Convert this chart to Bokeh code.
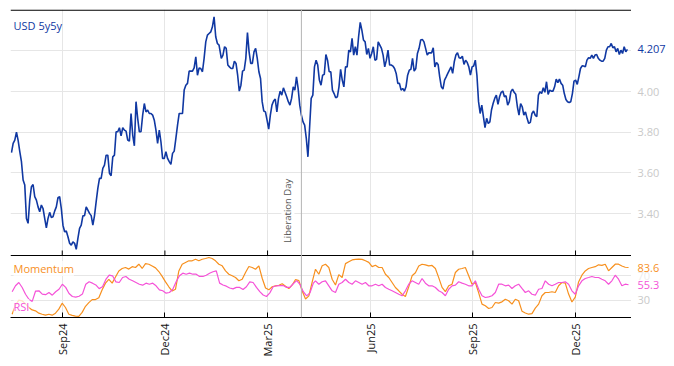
import pandas as pd
from math import pi
from bokeh.plotting import figure
from bokeh.layouts import row
from bokeh.models import (Range1d, FixedTicker, DatetimeTickFormatter,
                          Grid, Span, Label, ColumnDataSource)
from bokeh.core.properties import value
from bokeh.embed import file_html
from bokeh.resources import INLINE

# ---------------- data ----------------
SERIES_NAME = "USD 5y5y"
EVENT_NAME = "Liberation Day"
EVENT_DATE = "2025-04-02"
TICK_DATES = ["2024-09-02", "2024-12-02", "2025-03-03", "2025-06-02", "2025-09-01", "2025-12-01"]
PRICE_TICKS = [3.40, 3.60, 3.80, 4.00]
PRICE_GRID = [3.40, 3.60, 3.80, 4.00, 4.20]
IND_TICKS = [30, 70]

# USD 5y5y, three consecutive stretches (start date, end date, values)
price_a_span = ("2024-07-19", "2025-01-19")
price_a = [3.70, 3.745, 3.761, 3.80, 3.76, 3.704, 3.655, 3.565, 3.54, 3.376,
           3.352, 3.466, 3.532, 3.543, 3.483, 3.466, 3.433, 3.409, 3.442, 3.425,
           3.376, 3.33, 3.376, 3.406, 3.381, 3.384, 3.412, 3.433, 3.478, 3.483,
           3.425, 3.343, 3.311, 3.314, 3.286, 3.254, 3.245, 3.261, 3.254, 3.224,
           3.278, 3.327, 3.343, 3.389, 3.39, 3.433, 3.417, 3.401, 3.39, 3.343,
           3.39, 3.459, 3.524, 3.573, 3.573, 3.622, 3.638, 3.687, 3.687, 3.598,
           3.586, 3.679, 3.687, 3.802, 3.802, 3.822, 3.782, 3.822, 3.81, 3.805,
           3.761, 3.756, 3.892, 3.786, 3.733, 3.95, 3.868, 3.802, 3.802, 3.884,
           3.941, 3.90, 3.909, 3.892, 3.892, 3.884, 3.859, 3.81, 3.745, 3.81,
           3.753, 3.671, 3.671, 3.704, 3.671, 3.655, 3.642, 3.696, 3.707, 3.77,
           3.835, 3.892, 3.892, 3.892, 4.007, 4.031, 4.04, 4.10, 4.10, 4.10,
           4.116, 4.17, 4.08, 4.116, 4.113, 4.097, 4.163, 4.244, 4.277, 4.285,
           4.293, 4.318, 4.367, 4.269, 4.236, 4.228]
price_b_span = ("2025-01-21", "2025-07-24")
price_b = [4.163, 4.179, 4.22, 4.212, 4.13, 4.121, 4.113, 4.113, 4.149, 4.138,
           4.08, 4.002, 4.031, 4.10, 4.105, 4.163, 4.29, 4.195, 4.138, 4.138,
           4.195, 4.212, 4.163, 4.097, 4.064, 3.95, 3.904, 3.90, 3.859, 3.815,
           3.884, 3.933, 3.953, 3.963, 3.90, 3.966, 4.002, 3.982, 4.018, 3.996,
           3.974, 3.95, 3.933, 3.966, 4.023, 4.007, 4.072, 4.015, 3.933, 3.884,
           3.851, 3.835, 3.77, 3.679, 3.819, 3.966, 3.982, 4.121, 4.154, 4.13,
           4.056, 4.031, 4.08, 4.084, 4.182, 4.154, 4.097, 4.097, 4.007, 3.99,
           3.969, 3.974, 4.023, 4.109, 4.056, 4.023, 4.121, 4.121, 4.203, 4.195,
           4.261, 4.179, 4.22, 4.179, 4.269, 4.34, 4.302, 4.253, 4.244, 4.182,
           4.212, 4.163, 4.187, 4.22, 4.154, 4.158, 4.244, 4.228, 4.212, 4.179,
           4.121, 4.154, 4.203, 4.13, 4.13, 4.125, 4.113, 4.089, 4.04, 4.04,
           4.007, 4.015, 4.002, 4.023, 4.08, 4.105, 4.109, 4.163, 4.10, 4.113,
           4.187, 4.212, 4.253, 4.256, 4.244, 4.212, 4.179, 4.19]
price_c_span = ("2025-07-25", "2026-01-16")
price_c = [4.19, 4.19, 4.215, 4.121, 4.143, 4.133, 4.072, 4.023, 4.012, 4.056,
           4.072, 4.089, 4.105, 4.121, 4.089, 4.146, 4.179, 4.19, 4.166, 4.163,
           4.174, 4.133, 4.154, 4.143, 4.121, 4.08, 4.121, 4.125, 4.154, 4.08,
           3.95, 3.892, 3.933, 3.876, 3.822, 3.868, 3.843, 3.851, 3.909, 3.941,
           3.966, 3.982, 3.937, 3.974, 3.996, 4.002, 3.974, 3.979, 3.933, 3.95,
           3.999, 4.012, 3.996, 3.986, 3.925, 3.884, 3.941, 3.925, 3.884, 3.90,
           3.868, 3.843, 3.848, 3.892, 3.904, 3.884, 3.876, 3.982, 3.999, 3.99,
           4.018, 3.996, 4.048, 3.986, 4.007, 4.002, 4.002, 4.023, 4.061, 4.044,
           4.061, 4.04, 4.031, 3.99, 3.961, 3.95, 3.946, 3.95, 3.99, 4.051,
           4.056, 4.035, 4.072, 4.113, 4.126, 4.125, 4.121, 4.154, 4.166, 4.163,
           4.179, 4.163, 4.179, 4.182, 4.163, 4.154, 4.149, 4.149, 4.163, 4.203,
           4.22, 4.22, 4.236, 4.215, 4.22, 4.195, 4.212, 4.182, 4.203, 4.187,
           4.22, 4.195, 4.207]

# Indicators (two stretches each)
rsi_a_span = ("2024-07-19 14:00", "2025-04-12 14:00")
rsi_a = [43.8, 53.6, 59, 50.8, 39.8, 31.6, 28, 45, 45.4, 40,
         39, 42.6, 38.2, 43.8, 48, 56.2, 51, 41, 36, 35,
         36.5, 40, 56.2, 60.2, 57.9, 55, 49, 52, 64, 71,
         70, 60, 59, 67.2, 68.9, 64.4, 61.8, 59, 56.2, 54.6,
         57.9, 56.2, 57.9, 53.6, 47, 45.4, 41.5, 42.6, 48, 60.2,
         70, 74.3, 72.6, 74.3, 72.6, 72.6, 68.9, 68.9, 71, 74.3,
         76.6, 78.2, 58, 55, 53, 50, 48.5, 51, 51, 47.5,
         52, 60, 59, 51, 44, 38.5, 36, 42, 52, 53.6,
         54, 54, 51, 51, 57, 62, 56, 44, 37, 42, 58]
rsi_b_span = ("2025-04-14 12:00", "2026-01-17")
rsi_b = [61.8, 56.2, 60.2, 61.8, 53.6, 45.4, 42.6, 56.2, 59, 64.4,
         59, 56.2, 61.8, 59, 56.2, 59, 53.6, 53.6, 56.2, 53.6,
         56.2, 50.8, 48, 45.4, 42.6, 39.8, 37.2, 45.4, 56.2, 61.8,
         59, 56.2, 65.6, 57.9, 53.6, 53.6, 50.8, 45.4, 42.6, 37.2,
         48, 53.6, 54.6, 60.2, 57.9, 56.2, 53.6, 53.6, 61.8, 48,
         37.2, 34.4, 35.5, 37.2, 42.6, 56.2, 56.2, 53.6, 54.6, 49.2,
         53.6, 56.2, 49.2, 42.6, 45.4, 39.8, 38.2, 48, 49.2, 61.8,
         56.2, 53.6, 56.2, 59, 59, 60.2, 56.2, 45.4, 39.8, 53.6,
         61.8, 65.6, 67.2, 68.9, 67.2, 67.2, 64.4, 61.8, 56.2, 61.8,
         71, 64.4, 53.6, 56.2, 55.3]
mom_a_span = ("2024-07-19 14:00", "2025-04-11 14:00")
mom_a = [7, 22, 30, 29, 24, 18, 14, 12.6, 8.7, 7,
         5.4, 7, 5.4, 8.7, 15.3, 25.1, 18, 7, 5, 4,
         3.5, 10, 20, 26, 31, 31, 34, 47, 58, 64,
         58, 68, 78, 82, 83.6, 81, 85, 83.6, 89, 82,
         90, 89, 86, 83, 77, 69, 60, 52, 45, 48,
         78, 89, 91.8, 94.6, 94.6, 97.2, 94.6, 97.2, 98.4, 100,
         98.4, 94.6, 89, 86.4, 78.2, 72.6, 70, 67.2, 61.8, 64.4,
         75.4, 85.2, 83.6, 80.8, 86.4, 66, 50, 47, 52, 53.6,
         54.5, 57, 53, 49, 55, 64, 62, 45, 32, 37, 60]
mom_b_span = ("2025-04-14 12:00", "2026-01-17")
mom_b = [80.8, 72.6, 86.4, 89, 83.6, 64.4, 55, 72, 67.2, 90,
         93, 96, 97, 97.5, 97, 94.6, 92, 85, 87.4, 83.6,
         83.6, 72.6, 67.2, 59, 50.8, 45.4, 39.8, 36, 52, 70,
         75, 86, 89, 88, 86.4, 87, 82, 67, 51, 44,
         53.6, 56.2, 75.4, 80.8, 82, 83.6, 70, 56.2, 59, 42,
         23.5, 20.8, 16.4, 18, 26.2, 25.1, 27.3, 31.6, 29, 23.5,
         31.6, 29, 12, 9, 7, 8, 17, 23.5, 37.2, 42.6,
         42.6, 43.8, 42.6, 53.6, 59, 57.9, 40, 27, 35, 60,
         71, 78, 82, 83.6, 85, 88, 87, 89, 78.2, 83.6,
         89, 89, 86, 84, 83.6]

# ---------------- helpers ----------------
def stretch(span, vals):
    return pd.date_range(span[0], span[1], periods=len(vals))

def ms(d):
    return pd.Timestamp(d).value / 1e6

price_x = stretch(price_a_span, price_a).append(stretch(price_b_span, price_b)).append(stretch(price_c_span, price_c))
price_y = price_a + price_b + price_c
rsi_x = stretch(rsi_a_span, rsi_a).append(stretch(rsi_b_span, rsi_b))
rsi_y = rsi_a + rsi_b
mom_x = stretch(mom_a_span, mom_a).append(stretch(mom_b_span, mom_b))
mom_y = mom_a + mom_b

# ---------------- layout ----------------
BLUE = "#1038a2"
ORANGE = "#f7901e"
PINK = "#f552d8"
GRID = "#e6e6e6"
FAINT = "#c9c9c9"
FONT = "Open Sans"

FRAME_W, TOP_H, BOT_H = 621, 246, 62
SIDE_W = 40
PRICE_TOP, PRICE_BOT = 4.403, 3.194
IND_BOT, IND_TOP = 1.6, 103.3
price_lo = PRICE_BOT - (PRICE_TOP - PRICE_BOT) * BOT_H / TOP_H
ind_hi = IND_TOP + (IND_TOP - IND_BOT) * TOP_H / BOT_H
px_price = (PRICE_TOP - PRICE_BOT) / TOP_H

x_start = pd.Timestamp("2024-07-18 03:00")
x_end = pd.Timestamp("2026-01-19 15:00")

y_price = Range1d(price_lo, PRICE_TOP)
y_ind = Range1d(IND_BOT, ind_hi)

p = figure(x_axis_type="datetime", y_axis_location=None,
           frame_width=FRAME_W, frame_height=TOP_H + BOT_H,
           x_range=Range1d(x_start, x_end), y_range=y_price,
           output_backend="svg", toolbar_location=None,
           min_border_left=10, min_border_top=9, min_border_right=0, min_border_bottom=0)
p.outline_line_color = None
p.extra_y_ranges = {"ind": y_ind}

tick_ms = [ms(d) for d in TICK_DATES]

date_fmt = DatetimeTickFormatter(milliseconds="%b%y", seconds="%b%y", minsec="%b%y",
                                 minutes="%b%y", hourmin="%b%y", hours="%b%y",
                                 days="%b%y", months="%b%y", years="%b%y")

xa = p.xaxis[0]
xa.ticker = FixedTicker(ticks=tick_ms)
xa.formatter = date_fmt
xa.major_label_orientation = pi / 2
xa.axis_line_color = "black"
xa.major_tick_line_color = "black"
xa.major_tick_in = 5
xa.major_tick_out = 0
xa.minor_tick_line_color = None
xa.major_label_standoff = 6
xa.major_label_text_font = FONT
xa.major_label_text_font_size = "11px"
xa.major_label_text_color = "#111111"

p.xgrid.ticker = FixedTicker(ticks=tick_ms)
p.xgrid.grid_line_color = GRID
p.ygrid.ticker = FixedTicker(ticks=PRICE_GRID)
p.ygrid.grid_line_color = GRID
p.add_layout(Grid(dimension=1, ticker=FixedTicker(ticks=IND_TICKS), y_range_name="ind",
                  grid_line_color=GRID))

# top rule, separator between panels and its inward ticks, event line
p.add_layout(Span(location=PRICE_TOP - 0.6 * px_price, dimension="width",
                  line_color="black", line_width=1.2))
p.add_layout(Span(location=PRICE_BOT, dimension="width", line_color="black", line_width=1))
p.segment(x0=tick_ms, y0=[PRICE_BOT] * len(tick_ms), x1=tick_ms,
          y1=[PRICE_BOT + 5 * px_price] * len(tick_ms), line_color="black", line_width=1)
p.add_layout(Span(location=ms(EVENT_DATE), dimension="height", line_color="#b4b4b4", line_width=1))

# series
p.line(price_x, price_y, line_color=BLUE, line_width=1.6)
p.line(mom_x, mom_y, y_range_name="ind", line_color=ORANGE, line_width=1.2)
p.line(rsi_x, rsi_y, y_range_name="ind", line_color=PINK, line_width=1.2)

# in-plot labels
p.add_layout(Label(x=ms(x_start), y=4.326, x_offset=3, text=SERIES_NAME, text_font=FONT,
                   text_font_size="11px", text_color=BLUE, text_baseline="middle",
                   background_fill_color="white", background_fill_alpha=1.0))
p.add_layout(Label(x=ms(x_start), y=82, y_range_name="ind", x_offset=3, text="Momentum",
                   text_font=FONT, text_font_size="11px", text_color=ORANGE, text_baseline="middle",
                   background_fill_color="white", background_fill_alpha=0.75))
p.add_layout(Label(x=ms(x_start), y=19.7, y_range_name="ind", x_offset=3, text="RSI",
                   text_font=FONT, text_font_size="11px", text_color=PINK, text_baseline="middle",
                   background_fill_color="white", background_fill_alpha=0.75))
p.add_layout(Label(x=ms(EVENT_DATE), y=3.255, x_offset=-7, angle=pi / 2, text=EVENT_NAME,
                   text_font=FONT, text_font_size="9.5px", text_color="#555555",
                   text_align="left", text_baseline="bottom",
                   background_fill_color="white", background_fill_alpha=1.0))

# ---------------- right-hand value column ----------------
s = figure(frame_width=SIDE_W, frame_height=TOP_H + BOT_H, x_range=Range1d(0, SIDE_W),
           y_range=y_price, x_axis_location=None, y_axis_location=None,
           output_backend="svg", toolbar_location=None,
           min_border_left=0, min_border_top=9, min_border_right=0, min_border_bottom=0)
s.outline_line_color = None
s.grid.visible = False
s.extra_y_ranges = {"ind": y_ind}

price_src = ColumnDataSource(dict(
    x=[6] * (len(PRICE_TICKS) + 1),
    y=PRICE_TICKS + [price_y[-1]],
    t=[f"{v:.2f}" for v in PRICE_TICKS] + [f"{price_y[-1]:.3f}"],
    c=[FAINT] * len(PRICE_TICKS) + [BLUE]))
ind_src = ColumnDataSource(dict(
    x=[6] * 4,
    y=[70, 30, mom_y[-1], rsi_y[-1]],
    t=["70", "30", f"{mom_y[-1]:.1f}", f"{rsi_y[-1]:.1f}"],
    c=["#ececec", FAINT, ORANGE, PINK]))
for src, rn in ((price_src, "default"), (ind_src, "ind")):
    s.text(x="x", y="y", text="t", text_color="c", source=src, y_range_name=rn,
           text_font=value(FONT), text_font_size=value("11px"),
           text_baseline="middle", text_align="left")

layout = row(p, s)
open("out.html", "w").write(file_html(layout, INLINE))
